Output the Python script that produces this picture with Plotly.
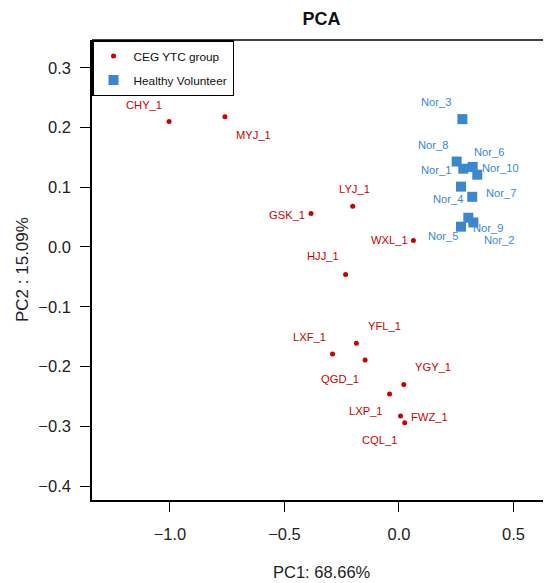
import plotly.graph_objects as go

# --- data ---
ceg_names = ["CHY_1", "MYJ_1", "GSK_1", "LYJ_1", "WXL_1", "HJJ_1", "YFL_1",
             "LXF_1", "QGD_1", "YGY_1", "LXP_1", "FWZ_1", "CQL_1"]
ceg_pc1 = [-1.004, -0.760, -0.384, -0.202, 0.063, -0.233, -0.186,
           -0.290, -0.148, 0.021, -0.041, 0.007, 0.025]
ceg_pc2 = [0.210, 0.218, 0.056, 0.068, 0.011, -0.046, -0.161,
           -0.179, -0.189, -0.230, -0.246, -0.283, -0.294]

hv_names = ["Nor_3", "Nor_8", "Nor_1", "Nor_6", "Nor_10", "Nor_4", "Nor_7",
            "Nor_9", "Nor_5", "Nor_2"]
hv_pc1 = [0.277, 0.252, 0.281, 0.322, 0.342, 0.271, 0.320, 0.303, 0.271, 0.325]
hv_pc2 = [0.214, 0.143, 0.131, 0.134, 0.121, 0.101, 0.084, 0.049, 0.034, 0.041]

x_ticks = [-1.0, -0.5, 0.0, 0.5]
y_ticks = [-0.4, -0.3, -0.2, -0.1, 0.0, 0.1, 0.2, 0.3]

# label offsets in pixels (dx right, dy down) -- style, not data
ceg_offsets = [(-25, -17), (29, 18), (-24, 1), (2, -17), (-24, 0), (-23, -18),
               (28, -17), (-23, -17), (-25, 19), (29, -17), (-24, 17), (29, 1),
               (-25, 17)]
hv_offsets = [(-26, -17), (-24, -17), (-27, 1), (16, -15), (23, -7), (-13, 12),
              (29, -4), (20, 10), (-18, 9), (26, 18)]

RED = "#CC0000"
BLUE = "#3A87CF"
FONT = "Liberation Sans, Arial, sans-serif"

fig = go.Figure()
fig.add_trace(go.Scatter(x=ceg_pc1, y=ceg_pc2, mode="markers", name="CEG YTC group",
                         marker=dict(color=RED, size=5, symbol="circle"),
                         legendgroup="a"))
fig.add_trace(go.Scatter(x=hv_pc1, y=hv_pc2, mode="markers", name="Healthy Volunteer",
                         marker=dict(color=BLUE, size=10, symbol="square"),
                         legendgroup="b"))

annotations = []
for n, x, y, (dx, dy) in zip(ceg_names, ceg_pc1, ceg_pc2, ceg_offsets):
    annotations.append(dict(x=x, y=y, text=n, showarrow=False, xshift=dx, yshift=-dy,
                            font=dict(color=RED, size=11.2, family=FONT)))
for n, x, y, (dx, dy) in zip(hv_names, hv_pc1, hv_pc2, hv_offsets):
    annotations.append(dict(x=x, y=y, text=n, showarrow=False, xshift=dx, yshift=-dy,
                            font=dict(color=BLUE, size=11.2, family=FONT)))

annotations.append(dict(xref="paper", yref="paper", x=0.5, y=0, yshift=-72,
                        text="PC1: 68.66%", showarrow=False, yanchor="middle",
                        font=dict(size=16.5, color="#222", family=FONT)))
annotations.append(dict(xref="paper", yref="paper", x=0, xshift=-70, y=0.5,
                        text="PC2 : 15.09%", showarrow=False, textangle=-90,
                        xanchor="center", yanchor="middle",
                        font=dict(size=17, color="#222", family=FONT)))

fig.update_layout(
    width=543, height=575,
    margin=dict(l=84, r=0, t=32, b=83),
    paper_bgcolor="white", plot_bgcolor="white",
    font=dict(family=FONT, color="#222"),
    title=dict(text="<b>PCA</b>", x=(84 + 543) / 2 / 543, xanchor="center",
               y=1 - 11 / 575, yanchor="middle",
               font=dict(size=18, color="#111", family=FONT)),
    showlegend=True,
    legend=dict(x=0, y=1, xanchor="left", yanchor="top", bgcolor="white",
                bordercolor="black", borderwidth=1.5, tracegroupgap=5,
                traceorder="grouped",
                font=dict(size=11.8, color="#111", family=FONT), itemwidth=30),
    annotations=annotations,
    shapes=[dict(type="line", xref="paper", yref="paper", x0=0, x1=1, y0=1, y1=1,
                 line=dict(color="black", width=1.5))],
)
fig.update_xaxes(range=[-1.3406, 0.664], showgrid=False, zeroline=False,
                 showline=True, linecolor="black", linewidth=1.5,
                 ticks="outside", ticklen=10, tickwidth=1.2, tickcolor="black",
                 tickvals=x_ticks, tickformat=".1f", ticklabelstandoff=8,
                 tickfont=dict(size=16.5, color="#222", family=FONT))
fig.update_yaxes(range=[-0.4234, 0.3464], showgrid=False, zeroline=False,
                 showline=True, linecolor="black", linewidth=1.5,
                 ticks="outside", ticklen=10, tickwidth=1.2, tickcolor="black",
                 tickvals=y_ticks, tickformat=".1f", ticklabelstandoff=6,
                 tickfont=dict(size=16.5, color="#222", family=FONT))

fig.write_html("out.html")
